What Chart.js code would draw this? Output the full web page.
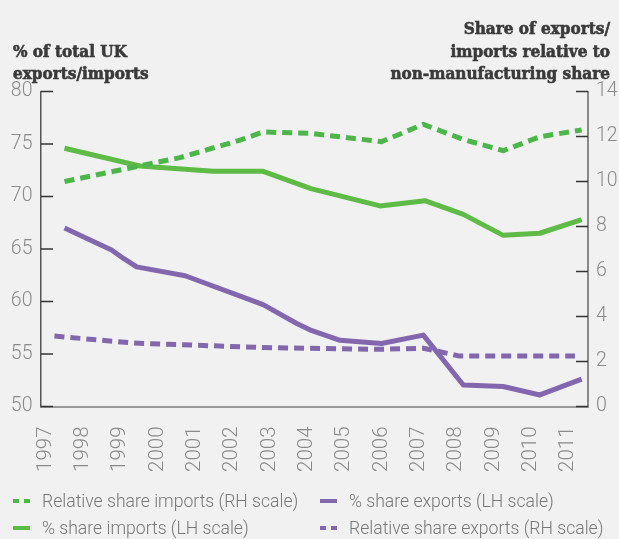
<!DOCTYPE html>
<html>
<head>
<meta charset="utf-8">
<script src="https://cdn.jsdelivr.net/npm/chart.js@4.4.1/dist/chart.umd.min.js"></script>
<style>
html,body{margin:0;padding:0;background:#f1f1f1;}
#wrap{position:relative;width:619px;height:539px;overflow:hidden;background:#f1f1f1;}
#c{position:absolute;left:0;top:0;}
.title{position:absolute;font-family:"DejaVu Serif Condensed","DejaVu Serif",serif;font-stretch:condensed;font-weight:bold;font-size:17px;line-height:22.5px;color:#3a3a3a;white-space:nowrap;-webkit-text-stroke:0.6px #3a3a3a;}
#tl{left:13px;top:39.5px;text-align:left;}
#tr{right:9px;top:17px;text-align:right;}
.lg{position:absolute;height:20px;font-family:Roboto,sans-serif;font-weight:300;font-size:17.6px;line-height:20px;color:#777;white-space:nowrap;}
.mk{position:absolute;top:8px;height:4px;}
.lt{position:absolute;left:29px;top:0;}
</style>
</head>
<body>
<div id="wrap">
  <canvas id="c" width="619" height="539"></canvas>
  <div class="title" id="tl"></div>
  <div class="title" id="tr"></div>
</div>
<script>
// ---- Data ----
const tickYears = [1997,1998,1999,2000,2001,2002,2003,2004,2005,2006,2007,2008,2009,2010,2011];

const leftTitleLines = ['% of total UK', 'exports/imports'];
const rightTitleLines = ['Share of exports/', 'imports relative to', 'non-manufacturing share'];

const seriesLabels = [
  'Relative share imports (RH scale)',
  '% share exports (LH scale)',
  '% share imports (LH scale)',
  'Relative share exports (RH scale)'
];

// Relative share imports (RH scale)
const importsRelX = [1997.51, 2000.60, 2002.21, 2002.83, 2004.08, 2006.00, 2007.12, 2008.19, 2009.26, 2010.24, 2011.36];
const importsRel  = [10.0, 11.06, 11.84, 12.2, 12.14, 11.77, 12.54, 11.87, 11.37, 11.99, 12.29];

// % share exports (LH scale)
const exportsPctX = [1997.51, 1998.77, 1999.09, 1999.44, 2000.74, 2002.83, 2003.73, 2004.08, 2004.89, 2006.00, 2007.12, 2008.19, 2009.26, 2010.24, 2011.36];
const exportsPct  = [67.0, 64.9, 64.1, 63.3, 62.45, 59.7, 57.9, 57.3, 56.3, 56.0, 56.8, 52.05, 51.9, 51.1, 52.6];

// % share imports (LH scale)
const importsPctX = [1997.51, 1999.53, 2001.49, 2002.83, 2004.11, 2005.96, 2007.16, 2008.19, 2009.26, 2010.24, 2011.36];
const importsPct  = [74.6, 72.9, 72.4, 72.4, 70.75, 69.1, 69.6, 68.3, 66.3, 66.5, 67.8];

// Relative share exports (RH scale)
const exportsRelX = [1997.24, 1999.35, 2002.83, 2006.00, 2007.12, 2008.10, 2011.18];
const exportsRel  = [3.13, 2.82, 2.62, 2.54, 2.59, 2.24, 2.24];

// ---- Styles ----
const GREEN = '#5dbb46';
const GREEN_D = '#4bb749';
const PURPLE = '#8267ae';
const TICK_COLOR = '#8a8a8a';
const Y_FONT = {family: 'Roboto', weight: '300', size: 19.5};
const X_FONT = {family: 'Roboto', weight: '300', size: 20.5};

const pts = (xs, ys) => xs.map((x, i) => ({x: x, y: ys[i]}));

const datasets = [
  {label: seriesLabels[0], data: pts(importsRelX, importsRel), yAxisID: 'y1', borderColor: GREEN_D, borderDash: [10, 6], dashed: true},
  {label: seriesLabels[1], data: pts(exportsPctX, exportsPct), yAxisID: 'y', borderColor: PURPLE, dashed: false},
  {label: seriesLabels[2], data: pts(importsPctX, importsPct), yAxisID: 'y', borderColor: GREEN, dashed: false},
  {label: seriesLabels[3], data: pts(exportsRelX, exportsRel), yAxisID: 'y1', borderColor: PURPLE, borderDash: [10, 6], dashed: true}
].map(d => Object.assign({
  borderWidth: 5, pointRadius: 0, tension: 0, fill: false,
  borderCapStyle: 'butt', borderJoinStyle: 'round', backgroundColor: d.borderColor
}, d));

// Inward tick marks on the two value axes
const innerTicks = {
  id: 'innerTicks',
  afterDraw(chart) {
    const ctx = chart.ctx, a = chart.chartArea;
    ctx.save();
    ctx.strokeStyle = '#333';
    ctx.lineWidth = 1.5;
    const ys = chart.scales.y, yr = chart.scales.y1;
    ys.ticks.forEach((t, i) => {
      const p = ys.getPixelForTick(i);
      ctx.beginPath(); ctx.moveTo(a.left, p); ctx.lineTo(a.left + 12, p); ctx.stroke();
    });
    yr.ticks.forEach((t, i) => {
      const p = yr.getPixelForTick(i);
      ctx.beginPath(); ctx.moveTo(a.right - 12, p); ctx.lineTo(a.right, p); ctx.stroke();
    });
    ctx.restore();
  }
};

new Chart(document.getElementById('c'), {
  type: 'line',
  data: {datasets: datasets},
  options: {
    responsive: false,
    animation: false,
    layout: {padding: {top: 91.5, left: 0, right: 0, bottom: 0}},
    plugins: {legend: {display: false}, tooltip: {enabled: false}, title: {display: false}},
    scales: {
      x: {
        type: 'linear', position: 'bottom',
        min: 1996.88, max: 2011.53,
        afterBuildTicks: s => { s.ticks = tickYears.map(v => ({value: v})); },
        afterFit: s => { s.height = 132.5; },
        ticks: {
          autoSkip: false, minRotation: 90, maxRotation: 90, padding: 20,
          color: TICK_COLOR, font: X_FONT,
          callback: v => String(v)
        },
        grid: {display: false, drawTicks: false},
        border: {display: true, color: '#9a9a9a', width: 2}
      },
      y: {
        type: 'linear', position: 'left', min: 50, max: 80,
        afterFit: s => { s.width = 41; },
        ticks: {stepSize: 5, padding: 8.5, color: TICK_COLOR, font: Y_FONT},
        grid: {display: false, drawTicks: false},
        border: {display: true, color: '#555', width: 1.5}
      },
      y1: {
        type: 'linear', position: 'right', min: 0, max: 14,
        afterFit: s => { s.width = 31; },
        ticks: {stepSize: 2, padding: 8, color: TICK_COLOR, font: Y_FONT},
        grid: {display: false, drawTicks: false},
        border: {display: true, color: '#888', width: 2}
      }
    }
  },
  plugins: [innerTicks]
});

// Titles
document.getElementById('tl').innerHTML = leftTitleLines.map(s => s.replace(/&/g,'&amp;').replace(/</g,'&lt;')).join('<br>');
document.getElementById('tr').innerHTML = rightTitleLines.map(s => s.replace(/&/g,'&amp;').replace(/</g,'&lt;')).join('<br>');

// Legend (two columns, two rows)
const wrap = document.getElementById('wrap');
const colX = [13, 320];
const rowY = [491, 518];
datasets.forEach((d, i) => {
  const item = document.createElement('div');
  item.className = 'lg';
  item.style.left = colX[i % 2] + 'px';
  item.style.top = rowY[Math.floor(i / 2)] + 'px';
  if (d.dashed) {
    [0, 11].forEach(off => {
      const m = document.createElement('span');
      m.className = 'mk';
      m.style.left = off + 'px'; m.style.width = '6px';
      m.style.background = d.borderColor;
      item.appendChild(m);
    });
  } else {
    const m = document.createElement('span');
    m.className = 'mk';
    m.style.left = '0px'; m.style.width = '17px';
    m.style.background = d.borderColor;
    item.appendChild(m);
  }
  const t = document.createElement('span');
  t.className = 'lt';
  t.textContent = d.label;
  item.appendChild(t);
  wrap.appendChild(item);
});
</script>
</body>
</html>
